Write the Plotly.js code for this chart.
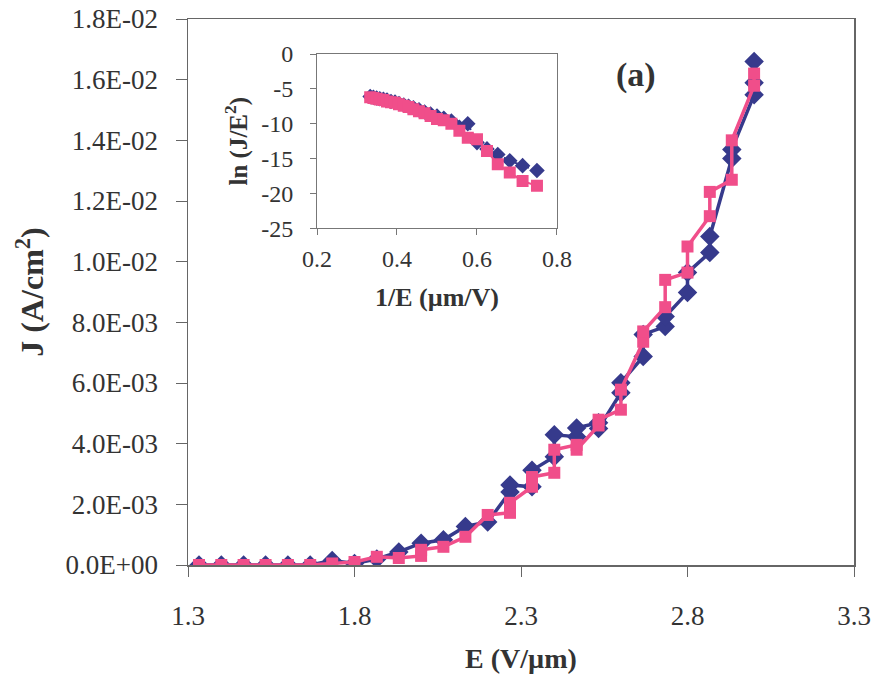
<!DOCTYPE html>
<html>
<head>
<meta charset="utf-8">
<script src="https://cdn.plot.ly/plotly-3.0.1.min.js"></script>
<style>html,body{margin:0;padding:0;background:#fff;}#chart{width:877px;height:688px;}</style>
</head>
<body>
<div id="chart"></div>
<script>
// Main plot: E (V/um) vs J (A/cm^2); repeated E values = repeated readings at that field
const blueE = [1.333,1.4,1.467,1.533,1.6,1.667,1.733,1.8,1.867,1.933,2.0,2.067,2.133,2.2,
  2.267,2.267,2.333,2.333,2.4,2.4,2.467,2.467,2.533,2.533,2.6,2.6,2.667,2.667,2.733,2.733,2.8,2.8,2.867,2.867,2.933,2.933,3.0,3.0,3.0];
const blueJ = [0,0,0,0,0,0,0.00015,0.00005,0.0002,0.00043,0.00072,0.00083,0.00127,0.00142,
  0.00241,0.00264,0.00258,0.00312,0.00357,0.00429,0.00423,0.00452,0.00469,0.0045,0.00568,0.00601,0.00687,0.0076,0.00786,0.00819,0.00898,0.00964,0.0103,0.01083,0.0134,0.0137,0.0155,0.0159,0.0166];
const pinkE = [1.333,1.4,1.467,1.533,1.6,1.667,1.733,1.8,1.867,1.933,2.0,2.0,2.067,2.133,2.2,
  2.267,2.267,2.333,2.333,2.4,2.4,2.467,2.467,2.533,2.533,2.6,2.6,2.667,2.667,2.733,2.733,2.8,2.8,2.867,2.867,2.933,2.933,3.0,3.0];
const pinkJ = [0,0,0,0,0,0,0.00005,0.0001,0.00027,0.00023,0.0003,0.0005,0.0006,0.00093,0.00165,
  0.00172,0.00205,0.00258,0.0029,0.00304,0.0038,0.00396,0.0038,0.0046,0.00479,0.00512,0.00578,0.00736,0.0077,0.0085,0.0094,0.00964,0.0105,0.0115,0.0123,0.0127,0.014,0.0158,0.0162];

// Inset: 1/E (um/V) vs ln(J/E^2)
const invE = [0.333,0.341,0.349,0.357,0.366,0.375,0.385,0.395,0.405,0.417,0.429,0.441,0.455,
  0.469,0.484,0.5,0.517,0.536,0.556,0.577,0.6,0.625,0.652,0.682,0.714,0.75];
const blueLn = [-6.1,-6.2,-6.3,-6.4,-6.5,-6.6,-6.8,-6.9,-7.1,-7.3,-7.5,-7.7,-8.0,
  -8.3,-8.6,-8.9,-9.2,-9.6,-10.5,-10.0,-12.7,-13.6,-14.4,-15.3,-16.0,-16.7];
const pinkLn = [-6.2,-6.3,-6.4,-6.5,-6.6,-6.8,-6.9,-7.0,-7.2,-7.4,-7.6,-7.9,-8.2,
  -8.5,-8.9,-9.3,-9.5,-10.0,-11.0,-12.0,-12.2,-13.9,-15.8,-17.0,-18.2,-18.9];

const yTickVals = [0,0.002,0.004,0.006,0.008,0.010,0.012,0.014,0.016,0.018];
const yTickText = ['0.0E+00','2.0E-03','4.0E-03','6.0E-03','8.0E-03','1.0E-02','1.2E-02','1.4E-02','1.6E-02','1.8E-02'];
const xTickVals = [1.3,1.8,2.3,2.8,3.3];
const inXTicks = [0.2,0.4,0.6,0.8];
const inYTicks = [-25,-20,-15,-10,-5,0];

const BLUE = '#363a8c', PINK = '#f04e8a';
const SERIF = 'Liberation Serif, Times New Roman, serif';

const traces = [
  {x: blueE, y: blueJ, type:'scatter', mode:'lines+markers', xaxis:'x', yaxis:'y',
   line:{color:BLUE, width:3.5}, marker:{symbol:'diamond', size:15, color:BLUE}},
  {x: pinkE, y: pinkJ, type:'scatter', mode:'lines+markers', xaxis:'x', yaxis:'y',
   line:{color:PINK, width:3.5}, marker:{symbol:'square', size:12, color:PINK}},
  {x: invE, y: blueLn, type:'scatter', mode:'lines+markers', xaxis:'x2', yaxis:'y2',
   line:{color:BLUE, width:2, dash:'dot'}, marker:{symbol:'diamond', size:12, color:BLUE}},
  {x: invE, y: pinkLn, type:'scatter', mode:'lines+markers', xaxis:'x2', yaxis:'y2',
   line:{color:PINK, width:2}, marker:{symbol:'square', size:12, color:PINK}}
];

const layout = {
  width: 877, height: 688,
  margin: {l:188, r:23, t:19, b:123},
  paper_bgcolor:'#fff', plot_bgcolor:'#fff',
  showlegend:false,
  font:{family:SERIF, color:'#333'},
  xaxis: {
    range:[1.3,3.3], tickvals:xTickVals, ticktext:xTickVals.map(v=>v.toFixed(1)),
    showgrid:false, zeroline:false, showline:true, linecolor:'#666', linewidth:1.5, mirror:true,
    ticks:'outside', ticklen:10, tickcolor:'#666', tickwidth:1, ticklabelstandoff:16,
    tickfont:{family:SERIF, size:27, color:'#333'},
    title:{text:'<b>E (V/µm)</b>', font:{family:SERIF, size:28, color:'#333'}, standoff:18}
  },
  yaxis: {
    range:[0,0.018], tickvals:yTickVals, ticktext:yTickText,
    showgrid:false, zeroline:false, showline:true, linecolor:'#666', linewidth:1.5, mirror:true,
    ticks:'outside', ticklen:11, tickcolor:'#666', tickwidth:1, ticklabelstandoff:12,
    tickfont:{family:SERIF, size:27, color:'#333'},
    title:{text:'<b>J (A/cm<sup>2</sup>)</b>', font:{family:SERIF, size:32, color:'#333'}, standoff:12}
  },
  xaxis2: {
    domain:[0.1937,0.554], anchor:'y2', range:[0.2,0.8], tickvals:inXTicks, ticktext:inXTicks.map(v=>v.toFixed(1)),
    showgrid:false, zeroline:false, showline:true, linecolor:'#777', linewidth:1, mirror:true,
    ticks:'outside', ticklen:6, tickcolor:'#777', ticklabelstandoff:3,
    tickfont:{family:SERIF, size:24, color:'#333'},
    title:{text:'<b>1/E (µm/V)</b>', font:{family:SERIF, size:26, color:'#333'}, standoff:16}
  },
  yaxis2: {
    domain:[0.6165,0.9358], anchor:'x2', range:[-25,0], tickvals:inYTicks, ticktext:inYTicks.map(String),
    showgrid:false, zeroline:false, showline:true, linecolor:'#777', linewidth:1, mirror:true,
    ticks:'outside', ticklen:6, tickcolor:'#777', ticklabelstandoff:12,
    tickfont:{family:SERIF, size:24, color:'#333'},
    title:{text:'<b>ln (J/E<sup>2</sup>)</b>', font:{family:SERIF, size:25, color:'#333'}, standoff:6}
  },
  annotations: [
    {text:'<b>(a)</b>', xref:'paper', yref:'paper', x:0.673, y:0.897, xanchor:'center', yanchor:'middle',
     showarrow:false, font:{family:SERIF, size:34, color:'#333'}}
  ]
};

Plotly.newPlot('chart', traces, layout, {staticPlot:true, displayModeBar:false});
</script>
</body>
</html>
